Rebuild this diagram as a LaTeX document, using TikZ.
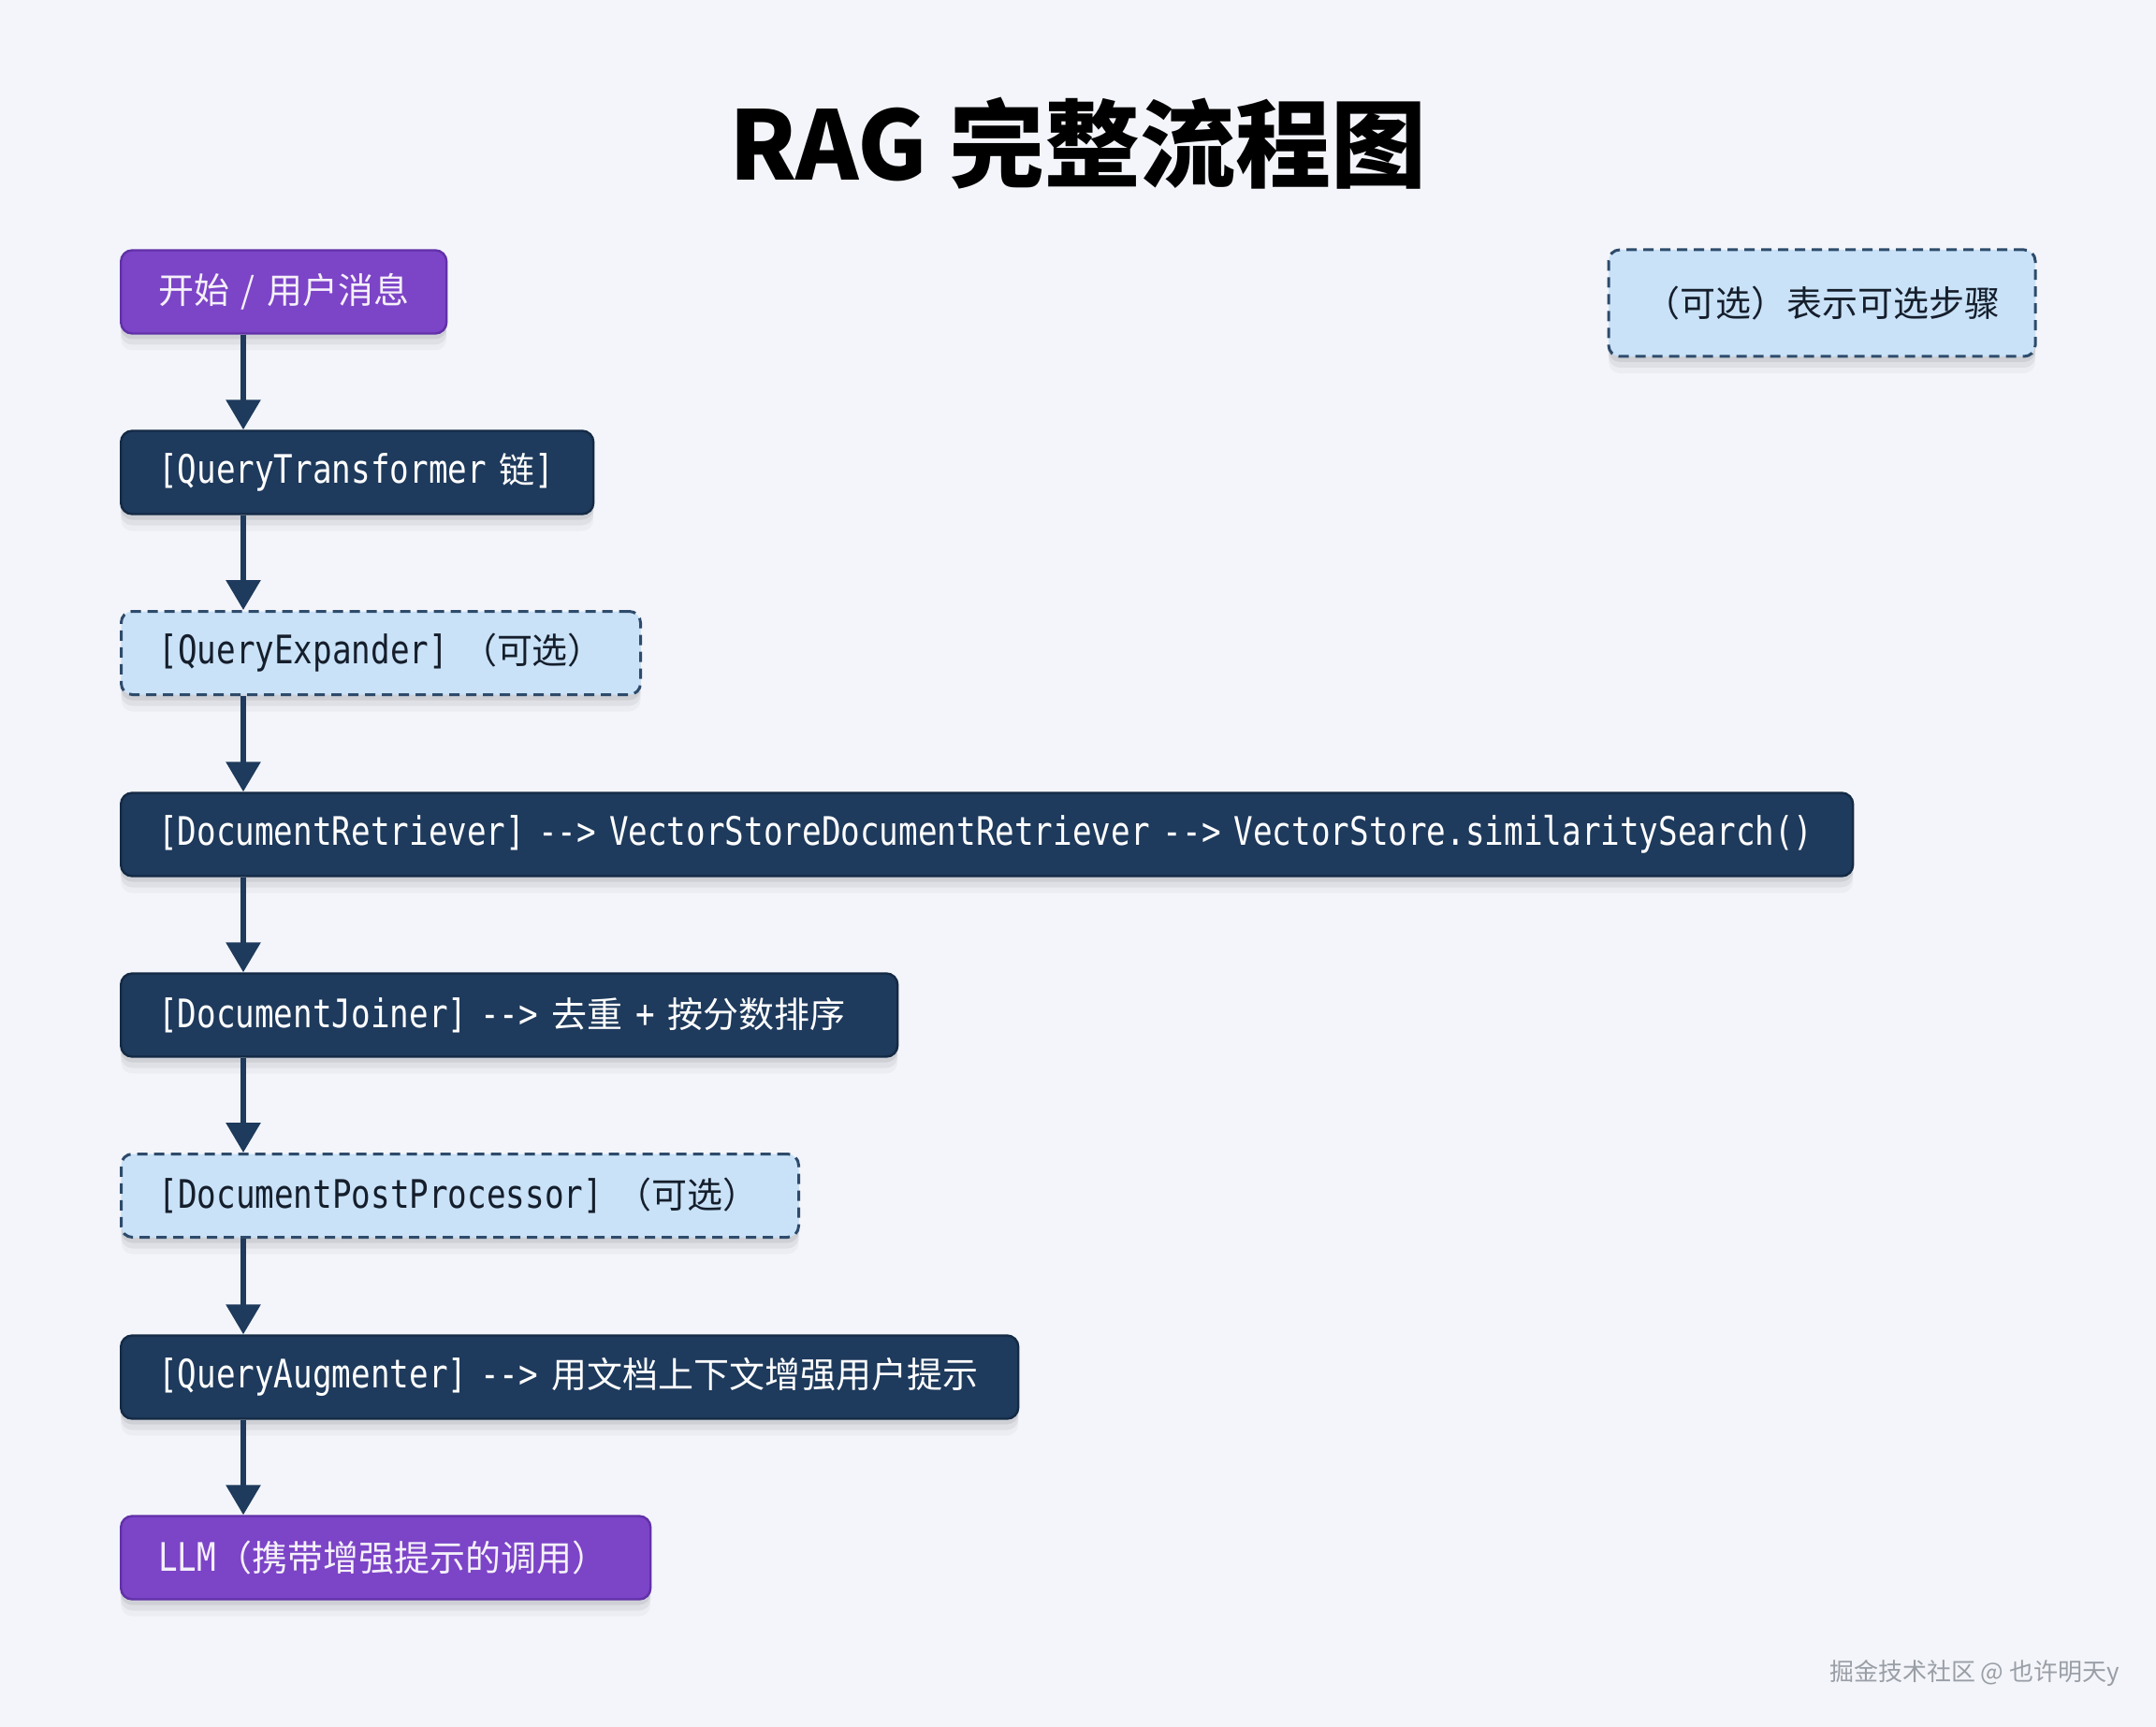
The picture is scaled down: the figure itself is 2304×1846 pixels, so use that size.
\documentclass[tikz,border=0pt]{standalone}
\usepackage{fontspec}
\usetikzlibrary{arrows.meta,shadows}
\newfontfamily\zhfont{Noto Sans CJK SC}
\newfontfamily\lmono[FakeStretch=0.816]{DejaVu Sans Mono}
\newcommand\zh[1]{{\zhfont\fontsize{19pt}{24pt}\selectfont #1}}
\definecolor{bg}{HTML}{F3F5FA}
\definecolor{purp}{HTML}{7C44C7}
\definecolor{purpd}{HTML}{6131A8}
\definecolor{navy}{HTML}{1E3A5C}
\definecolor{navyd}{HTML}{142A45}
\definecolor{lblue}{HTML}{C9E2F8}
\definecolor{dashc}{HTML}{2E4B6B}
\definecolor{ink}{HTML}{151E2B}
\definecolor{wm}{HTML}{9A9EA6}
\tikzset{
  softshadow/.style={drop shadow={shadow xshift=0pt,shadow yshift=-3pt,opacity=0.07,fill=black},
                     drop shadow={shadow xshift=0pt,shadow yshift=-6pt,opacity=0.05,fill=black},
                     drop shadow={shadow xshift=0pt,shadow yshift=-9pt,opacity=0.03,fill=black}},
  basebox/.style={rounded corners=6pt, minimum height=44.5pt, anchor=west,
                  inner xsep=20pt, inner ysep=0pt, align=left, line width=1.2pt,
                  font=\lmono\fontsize{21pt}{24pt}\selectfont, softshadow},
  purplebox/.style={basebox, fill=purp, draw=purpd, text=white!92!purp},
  darkbox/.style={basebox, fill=navy, draw=navyd, text=white},
  optbox/.style={basebox, fill=lblue, draw=dashc, line width=1.5pt,
                 dash pattern=on 5.5pt off 3.5pt, text=ink},
  arr/.style={draw=navy, line width=3pt, -{Triangle[width=18pt,length=16pt]}}
}
\begin{document}
\begin{tikzpicture}[x=0.5pt,y=-0.5pt]
\fill[bg] (0,0) rectangle (2304,1846);
\useasboundingbox (0,0) rectangle (2304,1846);

\node[anchor=base, text=black, font=\zhfont\bfseries\fontsize{51pt}{56pt}\selectfont] (title) at (1152,193) {RAG 完整流程图};

\node[optbox, anchor=center, align=center, minimum width=228pt, minimum height=57pt, inner xsep=0pt,
      font=\zhfont\fontsize{19pt}{21pt}\selectfont] (legend) at (1947,324) {（可选）表示可选步骤};

\node[purplebox, text width=134pt, font=\zhfont\fontsize{19pt}{22pt}\selectfont] (start) at (128,312) {\mbox{开始 / 用户消息}};
\node[darkbox, text width=212.5pt] (qt) at (128,505) {\mbox{[QueryTransformer \zh{链}]}};
\node[optbox, text width=237.5pt] (qe) at (128,698) {\mbox{[QueryExpander] \zh{（可选）}}};
\node[darkbox, text width=885.5pt] (dr) at (128,892) {\mbox{[DocumentRetriever] -{}-> VectorStoreDocumentRetriever -{}-> VectorStore.similaritySearch()}};
\node[darkbox, text width=375pt] (dj) at (128,1085) {\mbox{[DocumentJoiner] -{}-> \zh{去重} + \zh{按分数排序}}};
\node[optbox, text width=322pt] (dpp) at (128,1278) {\mbox{[DocumentPostProcessor] \zh{（可选）}}};
\node[darkbox, text width=439.5pt] (qa) at (128,1472) {\mbox{[QueryAugmenter] -{}-> \zh{用文档上下文增强用户提示}}};
\node[purplebox, text width=243pt] (llm) at (128,1665) {\mbox{LLM\zh{（携带增强提示的调用）}}};

\draw[arr] ([xshift=66pt]start.south west) -- ([xshift=66pt]qt.north west);
\draw[arr] ([xshift=66pt]qt.south west) -- ([xshift=66pt]qe.north west);
\draw[arr] ([xshift=66pt]qe.south west) -- ([xshift=66pt]dr.north west);
\draw[arr] ([xshift=66pt]dr.south west) -- ([xshift=66pt]dj.north west);
\draw[arr] ([xshift=66pt]dj.south west) -- ([xshift=66pt]dpp.north west);
\draw[arr] ([xshift=66pt]dpp.south west) -- ([xshift=66pt]qa.north west);
\draw[arr] ([xshift=66pt]qa.south west) -- ([xshift=66pt]llm.north west);

\node[text=wm, font=\zhfont\fontsize{13pt}{16pt}\selectfont] (wmark) at (2110,1788) {掘金技术社区 @ 也许明天y};
\end{tikzpicture}
\end{document}
